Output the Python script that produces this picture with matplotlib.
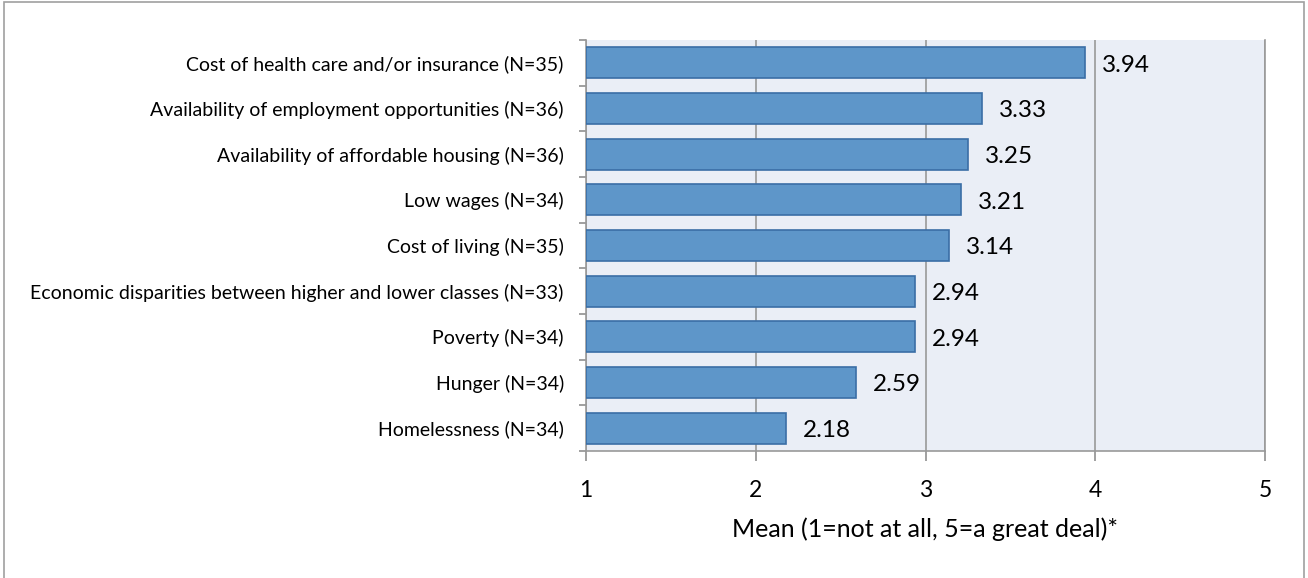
import numpy as np
import matplotlib.pyplot as plt
from matplotlib.patches import Rectangle

plt.rcParams["font.family"] = ["Lato", "DejaVu Sans"]

categories = [
    "Cost of health care and/or insurance (N=35)",
    "Availability of employment opportunities (N=36)",
    "Availability of affordable housing (N=36)",
    "Low wages (N=34)",
    "Cost of living (N=35)",
    "Economic disparities between higher and lower classes (N=33)",
    "Poverty (N=34)",
    "Hunger (N=34)",
    "Homelessness (N=34)",
]
means = [3.94, 3.33, 3.25, 3.21, 3.14, 2.94, 2.94, 2.59, 2.18]
xticks = [1, 2, 3, 4, 5]

fig = plt.figure(figsize=(13.08, 5.78), dpi=100)
ax = fig.add_axes([586 / 1308, 1 - 451 / 578, (1265 - 586) / 1308, 411 / 578])

# figure frame
fig.patches.append(Rectangle((4 / 1308, -0.01), 1300 / 1308, 1 - 2 / 578 + 0.01,
                             transform=fig.transFigure, fill=False,
                             edgecolor="#a0a0a0", linewidth=1.2))

ax.set_facecolor("#eaeef6")
y = np.arange(len(categories))
ax.barh(y, np.array(means) - 1, left=1, height=0.68, color="#5e96c9",
        edgecolor="#3a6ea6", linewidth=1.2, zorder=3)

for yi, v in zip(y, means):
    ax.text(v + 0.1, yi + 0.05, f"{v:.2f}", va="center", ha="left", fontsize=17.5)

ax.set_xlim(1, 5)
ax.set_ylim(len(categories) - 0.5, -0.5)
ax.set_xticks(xticks)
ax.set_xticklabels([str(t) for t in xticks], fontsize=16.5)
ax.set_yticks(y)
ax.set_yticklabels(categories, fontsize=14)
ax.set_yticks(np.arange(len(categories) + 1) - 0.5, minor=True)
ax.tick_params(axis="y", which="major", length=0, pad=16)
ax.tick_params(axis="y", which="minor", length=5, color="#909090", width=1.2)
ax.tick_params(axis="x", length=7, color="#909090", width=1.2, pad=14, direction="out")

ax.grid(axis="x", color="#999999", linewidth=1.2, zorder=0)
for s in ["top"]:
    ax.spines[s].set_visible(False)
for s in ["left", "bottom", "right"]:
    ax.spines[s].set_color("#999999")
    ax.spines[s].set_linewidth(1.2)

ax.set_xlabel("Mean (1=not at all, 5=a great deal)*", fontsize=18, labelpad=12)

fig.savefig("out.png", dpi=100)
